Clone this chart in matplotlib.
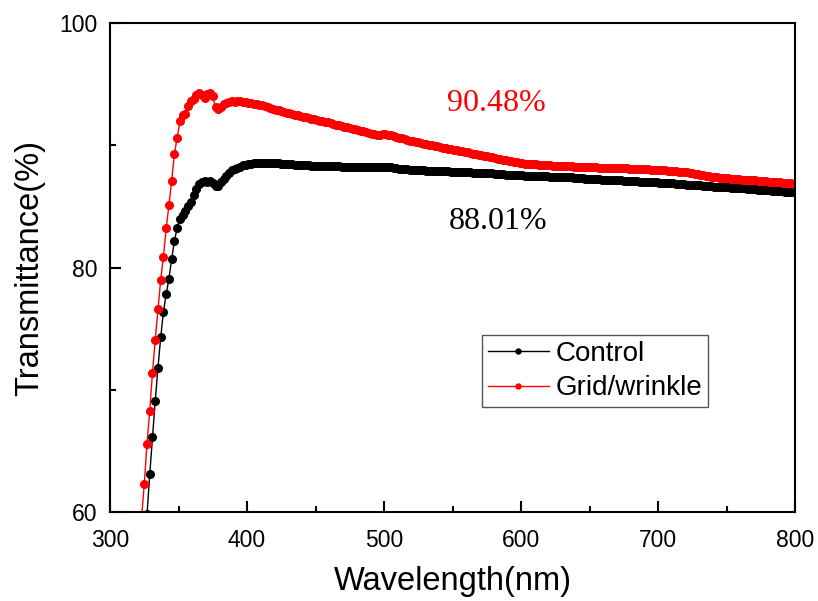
import numpy as np
from matplotlib import pyplot as plt

# wavelengths (nm), 2 nm sampling
wl_grid = np.arange(323, 800, 2)
wl_ctrl = np.arange(327, 800, 2)

t_grid = [
    59.5, 62.3, 65.6, 68.3, 71.4, 74.1, 76.6, 79.0, 80.9, 83.2,
    85.1, 87.1, 89.3, 90.6, 92.0, 92.5, 92.6, 93.2, 93.6, 93.8,
    94.1, 94.25, 94.1, 93.85, 94.2, 94.25, 94.0, 93.1, 92.95, 93.1,
    93.4, 93.45, 93.55, 93.6, 93.55, 93.6, 93.62, 93.58, 93.55, 93.5,
    93.47, 93.42, 93.4, 93.33, 93.28, 93.22, 93.15, 93.05, 92.98, 92.93,
    92.88, 92.82, 92.75, 92.68, 92.62, 92.57, 92.5, 92.45, 92.38, 92.33,
    92.28, 92.22, 92.18, 92.12, 92.08, 92.02, 91.98, 91.92, 91.88, 91.82,
    91.76, 91.7, 91.64, 91.58, 91.53, 91.48, 91.42, 91.37, 91.32, 91.27,
    91.2, 91.14, 91.08, 91.02, 90.95, 90.9, 90.86, 90.85, 90.9, 90.92,
    90.88, 90.84, 90.76, 90.7, 90.63, 90.56, 90.5, 90.45, 90.39, 90.34,
    90.3, 90.25, 90.2, 90.14, 90.08, 90.04, 90.0, 89.96, 89.92, 89.87,
    89.82, 89.77, 89.72, 89.68, 89.63, 89.58, 89.54, 89.5, 89.46, 89.42,
    89.37, 89.32, 89.27, 89.22, 89.18, 89.13, 89.09, 89.05, 89.01, 88.97,
    88.92, 88.87, 88.82, 88.77, 88.73, 88.69, 88.65, 88.61, 88.57, 88.54,
    88.51, 88.48, 88.46, 88.45, 88.44, 88.42, 88.4, 88.38, 88.36, 88.35,
    88.34, 88.34, 88.33, 88.32, 88.31, 88.3, 88.28, 88.27, 88.26, 88.25,
    88.24, 88.22, 88.21, 88.2, 88.2, 88.19, 88.19, 88.18, 88.17, 88.17,
    88.16, 88.15, 88.14, 88.13, 88.12, 88.12, 88.11, 88.11, 88.1, 88.1,
    88.09, 88.08, 88.07, 88.06, 88.05, 88.04, 88.02, 88.01, 87.99, 87.98,
    87.96, 87.95, 87.93, 87.91, 87.89, 87.87, 87.85, 87.83, 87.81, 87.78,
    87.74, 87.7, 87.66, 87.62, 87.58, 87.54, 87.5, 87.47, 87.44, 87.42,
    87.39, 87.36, 87.34, 87.31, 87.29, 87.27, 87.25, 87.23, 87.21, 87.2,
    87.19, 87.17, 87.16, 87.15, 87.14, 87.12, 87.1, 87.08, 87.06, 87.04,
    87.02, 87.0, 86.98, 86.96, 86.94, 86.92, 86.9, 86.88, 86.86,
]

t_ctrl = [
    59.8, 63.1, 66.1, 69.1, 71.8, 74.3, 76.4, 77.8, 79.1, 80.7,
    82.2, 83.2, 84.0, 84.3, 84.6, 85.0, 85.4, 85.9, 86.4, 86.8,
    87.0, 87.05, 87.0, 87.05, 86.9, 86.7, 86.65, 87.0, 87.25, 87.5,
    87.75, 87.95, 88.05, 88.15, 88.25, 88.35, 88.4, 88.45, 88.48, 88.52,
    88.54, 88.55, 88.56, 88.57, 88.57, 88.56, 88.55, 88.54, 88.52, 88.5,
    88.48, 88.46, 88.45, 88.44, 88.43, 88.42, 88.41, 88.4, 88.38, 88.36,
    88.34, 88.32, 88.31, 88.3, 88.3, 88.29, 88.29, 88.3, 88.3, 88.28,
    88.27, 88.26, 88.25, 88.25, 88.25, 88.24, 88.24, 88.23, 88.22, 88.21,
    88.2, 88.2, 88.21, 88.22, 88.24, 88.25, 88.26, 88.25, 88.22, 88.19,
    88.16, 88.13, 88.1, 88.07, 88.05, 88.03, 88.01, 88.0, 87.99, 87.98,
    87.96, 87.95, 87.94, 87.93, 87.92, 87.91, 87.9, 87.89, 87.88, 87.87,
    87.86, 87.85, 87.84, 87.83, 87.82, 87.81, 87.8, 87.79, 87.78, 87.77,
    87.76, 87.75, 87.74, 87.73, 87.72, 87.71, 87.7, 87.68, 87.66, 87.64,
    87.62, 87.61, 87.6, 87.58, 87.57, 87.56, 87.55, 87.54, 87.53, 87.52,
    87.51, 87.5, 87.49, 87.47, 87.46, 87.45, 87.45, 87.44, 87.44, 87.44,
    87.43, 87.43, 87.42, 87.4, 87.38, 87.37, 87.35, 87.34, 87.32, 87.3,
    87.28, 87.26, 87.25, 87.23, 87.22, 87.21, 87.2, 87.19, 87.18, 87.17,
    87.16, 87.15, 87.14, 87.13, 87.12, 87.11, 87.1, 87.09, 87.07, 87.05,
    87.04, 87.02, 87.0, 86.99, 86.98, 86.97, 86.96, 86.95, 86.94, 86.93,
    86.92, 86.9, 86.89, 86.87, 86.85, 86.83, 86.81, 86.79, 86.77, 86.76,
    86.75, 86.73, 86.72, 86.7, 86.68, 86.67, 86.65, 86.63, 86.61, 86.6,
    86.58, 86.57, 86.55, 86.54, 86.53, 86.52, 86.51, 86.49, 86.47, 86.45,
    86.43, 86.41, 86.4, 86.38, 86.36, 86.35, 86.34, 86.32, 86.3, 86.28,
    86.27, 86.25, 86.23, 86.21, 86.19, 86.17, 86.15,
]

labels = ['Control', 'Grid/wrinkle']
avg_labels = ['88.01%', '90.48%']

plt.rcParams['font.family'] = ['Liberation Sans', 'DejaVu Sans']

fig = plt.figure(figsize=(8.18, 6.01), dpi=100)
ax = fig.add_axes([0.1345, 0.148, 0.8374, 0.8136])

ax.plot(wl_ctrl, t_ctrl, color='black', lw=1, marker='o', ms=5.5,
        mec='black', mfc='black', label=labels[0])
ax.plot(wl_grid, t_grid, color='red', lw=1, marker='o', ms=5.5,
        mec='red', mfc='red', label=labels[1])

ax.set_xlim(300, 800)
ax.set_ylim(60, 100)
ax.set_xticks(np.arange(300, 801, 100))
ax.set_xticks(np.arange(350, 800, 100), minor=True)
ax.set_yticks([60, 80, 100])
ax.set_yticks([70, 90], minor=True)
ax.tick_params(which='both', direction='in', top=False, right=False,
               width=1.5, labelsize=16.5)
ax.tick_params(axis='x', which='both', pad=12)
ax.tick_params(axis='y', which='both', pad=9)
ax.tick_params(which='major', length=8)
ax.tick_params(which='minor', length=4)
for s in ax.spines.values():
    s.set_linewidth(1.5)

ax.set_xlabel('Wavelength(nm)', fontsize=23.5, labelpad=10)
ax.set_ylabel('Transmittance(%)', fontsize=23.5, labelpad=10)

ax.text(582, 93.45, avg_labels[1], color='red', fontsize=23,
        family='Liberation Serif', ha='center', va='center')
ax.text(583, 83.8, avg_labels[0], color='black', fontsize=23,
        family='Liberation Serif', ha='center', va='center')

leg = ax.legend(loc='lower left', bbox_to_anchor=(0.543, 0.215),
                borderaxespad=0, fontsize=20, markerscale=0.65,
                handlelength=2.2, fancybox=False, edgecolor='#555555',
                framealpha=1, borderpad=0.2, labelspacing=0.3,
                handletextpad=0.25)
leg.get_frame().set_linewidth(1)

fig.savefig('out.png', dpi=100)
